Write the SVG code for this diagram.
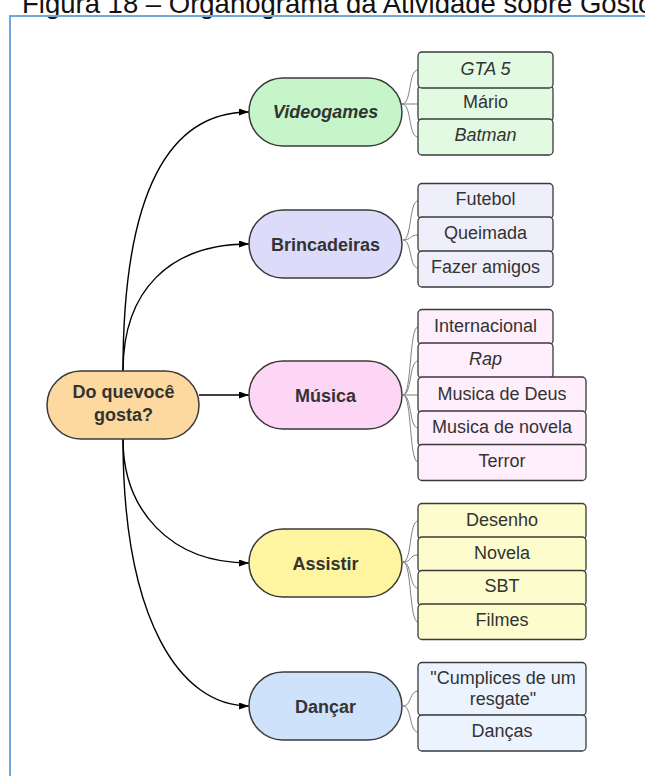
<svg xmlns="http://www.w3.org/2000/svg" width="645" height="776" viewBox="0 0 645 776">
  <defs>
    <marker id="arrow" viewBox="0 0 10 7" refX="10" refY="3.5" markerWidth="10" markerHeight="7" markerUnits="userSpaceOnUse" orient="auto">
      <path d="M0,0 L10,3.5 L0,7 z" fill="#000"/>
    </marker>
    <style>
      .title { font-family: "Liberation Sans", Arial, sans-serif; font-size: 27.5px; fill: #111; }
      .frame { fill: none; stroke: #6fa8dc; stroke-width: 2; }
      .pill { stroke: #3a3a3a; stroke-width: 1.5; }
      .leaf { stroke: #3a3a3a; stroke-width: 1.3; }
      .ptxt { font-family: "Liberation Sans", Arial, sans-serif; font-size: 18px; font-weight: bold; fill: #333; text-anchor: middle; }
      .ltxt { font-family: "Liberation Sans", Arial, sans-serif; font-size: 18px; fill: #333; text-anchor: middle; }
      .it { font-style: italic; }
      .edge { fill: none; stroke: #000; stroke-width: 1.4; marker-end: url(#arrow); }
      .sub { fill: none; stroke: #808080; stroke-width: 1; }
      .c-root { fill: #fdd9a0; }
      .c-vg { fill: #c5f5c8; } .l-vg { fill: #e2fae2; }
      .c-br { fill: #dcdcfa; } .l-br { fill: #efeffc; }
      .c-mu { fill: #fdd5f5; } .l-mu { fill: #ffeefb; }
      .c-as { fill: #fff5a0; } .l-as { fill: #fcfccc; }
      .c-da { fill: #cfe2fb; } .l-da { fill: #ebf3fe; }
    </style>
  </defs>

  <rect width="645" height="776" fill="#fff"/>
  <text class="title" x="22" y="12.5">Figura 18 – Organograma da Atividade sobre Gosto</text>
  <rect class="frame" x="10" y="16" width="700" height="800"/>

  <!-- main connectors from the root -->
  <g id="connectors">
    <path class="edge" d="M123,371 C123,190 170,112 249,112"/>
    <path class="edge" d="M123,371 C123,290 170,244 249,244"/>
    <path class="edge" d="M199,395 L249,395"/>
    <path class="edge" d="M123,439 C123,510 170,563 249,563"/>
    <path class="edge" d="M123,439 C123,620 180,706 249,706"/>
    <!-- branches to the item lists -->
    <path class="sub" d="M402,104 C412,104 408,70 418,70"/>
    <path class="sub" d="M402,104 L418,104"/>
    <path class="sub" d="M402,104 C412,104 408,137 418,137"/>
    <path class="sub" d="M403,240 C412,240 409,201 418,201"/>
    <path class="sub" d="M403,240 C412,240 409,235 418,235"/>
    <path class="sub" d="M403,240 C412,240 409,268 418,268"/>
    <path class="sub" d="M403,395 C412,395 409,327 418,327"/>
    <path class="sub" d="M403,395 C412,395 409,361 418,361"/>
    <path class="sub" d="M403,395 L418,395"/>
    <path class="sub" d="M403,395 C412,395 409,428 418,428"/>
    <path class="sub" d="M403,395 C412,395 409,462 418,462"/>
    <path class="sub" d="M403,562 C412,562 409,521 418,521"/>
    <path class="sub" d="M403,562 C412,562 409,555 418,555"/>
    <path class="sub" d="M403,562 C412,562 409,588 418,588"/>
    <path class="sub" d="M403,562 C412,562 409,622 418,622"/>
    <path class="sub" d="M403,706 C412,706 409,691 418,691"/>
    <path class="sub" d="M403,706 C412,706 409,732 418,732"/>
  </g>

  <!-- root -->
  <g id="root">
    <rect class="pill c-root" x="47" y="371" width="152" height="68" rx="34"/>
    <text class="ptxt" x="123.5" y="398">Do quevocê</text>
    <text class="ptxt" x="123.5" y="421">gosta?</text>
  </g>

  <!-- Videogames -->
  <g id="videogames">
    <rect class="pill c-vg" x="249" y="78" width="153" height="68" rx="34"/>
    <text class="ptxt it" x="325.5" y="118">Videogames</text>
  </g>
  <g id="videogames-items">
    <rect class="leaf l-vg" x="418" y="85.5" width="135" height="36" rx="4"/>
    <rect class="leaf l-vg" x="418" y="52" width="135" height="36" rx="4"/>
    <rect class="leaf l-vg" x="418" y="119" width="135" height="36" rx="4"/>
    <text class="ltxt it" x="485.5" y="75">GTA 5</text>
    <text class="ltxt" x="485.5" y="108">Mário</text>
    <text class="ltxt it" x="485.5" y="141">Batman</text>
  </g>

  <!-- Brincadeiras -->
  <g id="brincadeiras">
    <rect class="pill c-br" x="249" y="210" width="153" height="68" rx="34"/>
    <text class="ptxt" x="325.5" y="250.5">Brincadeiras</text>
  </g>
  <g id="brincadeiras-items">
    <rect class="leaf l-br" x="418" y="183.5" width="135" height="35" rx="4"/>
    <rect class="leaf l-br" x="418" y="217" width="135" height="35" rx="4"/>
    <rect class="leaf l-br" x="418" y="251" width="135" height="36" rx="4"/>
    <text class="ltxt" x="485.5" y="205">Futebol</text>
    <text class="ltxt" x="485.5" y="239">Queimada</text>
    <text class="ltxt" x="485.5" y="272.5">Fazer amigos</text>
  </g>

  <!-- Música -->
  <g id="musica">
    <rect class="pill c-mu" x="249" y="361" width="153" height="68" rx="34"/>
    <text class="ptxt" x="325.5" y="401.5">Música</text>
  </g>
  <g id="musica-items">
    <rect class="leaf l-mu" x="418" y="309.5" width="135" height="35" rx="4"/>
    <rect class="leaf l-mu" x="418" y="343" width="135" height="35" rx="4"/>
    <rect class="leaf l-mu" x="418" y="377" width="168" height="36" rx="4"/>
    <rect class="leaf l-mu" x="418" y="411" width="168" height="35" rx="4"/>
    <rect class="leaf l-mu" x="418" y="444.5" width="168" height="36" rx="4"/>
    <text class="ltxt" x="485.5" y="332">Internacional</text>
    <text class="ltxt it" x="485.5" y="365">Rap</text>
    <text class="ltxt" x="502" y="400">Musica de Deus</text>
    <text class="ltxt" x="502" y="433">Musica de novela</text>
    <text class="ltxt" x="502" y="466.5">Terror</text>
  </g>

  <!-- Assistir -->
  <g id="assistir">
    <rect class="pill c-as" x="249" y="529" width="153" height="68" rx="34"/>
    <text class="ptxt" x="325.5" y="569.5">Assistir</text>
  </g>
  <g id="assistir-items">
    <rect class="leaf l-as" x="418" y="503.5" width="168" height="36" rx="4"/>
    <rect class="leaf l-as" x="418" y="537" width="168" height="35" rx="4"/>
    <rect class="leaf l-as" x="418" y="570.5" width="168" height="35" rx="4"/>
    <rect class="leaf l-as" x="418" y="604" width="168" height="35.5" rx="4"/>
    <text class="ltxt" x="502" y="525.5">Desenho</text>
    <text class="ltxt" x="502" y="558.5">Novela</text>
    <text class="ltxt" x="502" y="592">SBT</text>
    <text class="ltxt" x="502" y="625.5">Filmes</text>
  </g>

  <!-- Dançar -->
  <g id="dancar">
    <rect class="pill c-da" x="249" y="672" width="153" height="68" rx="34"/>
    <text class="ptxt" x="325.5" y="712.5">Dançar</text>
  </g>
  <g id="dancar-items">
    <rect class="leaf l-da" x="418" y="662.5" width="168" height="53" rx="4"/>
    <rect class="leaf l-da" x="418" y="715" width="168" height="36" rx="4"/>
    <text class="ltxt" x="503" y="684">"Cumplices de um</text>
    <text class="ltxt" x="503" y="704.5">resgate"</text>
    <text class="ltxt" x="502" y="736.5">Danças</text>
  </g>
</svg>
